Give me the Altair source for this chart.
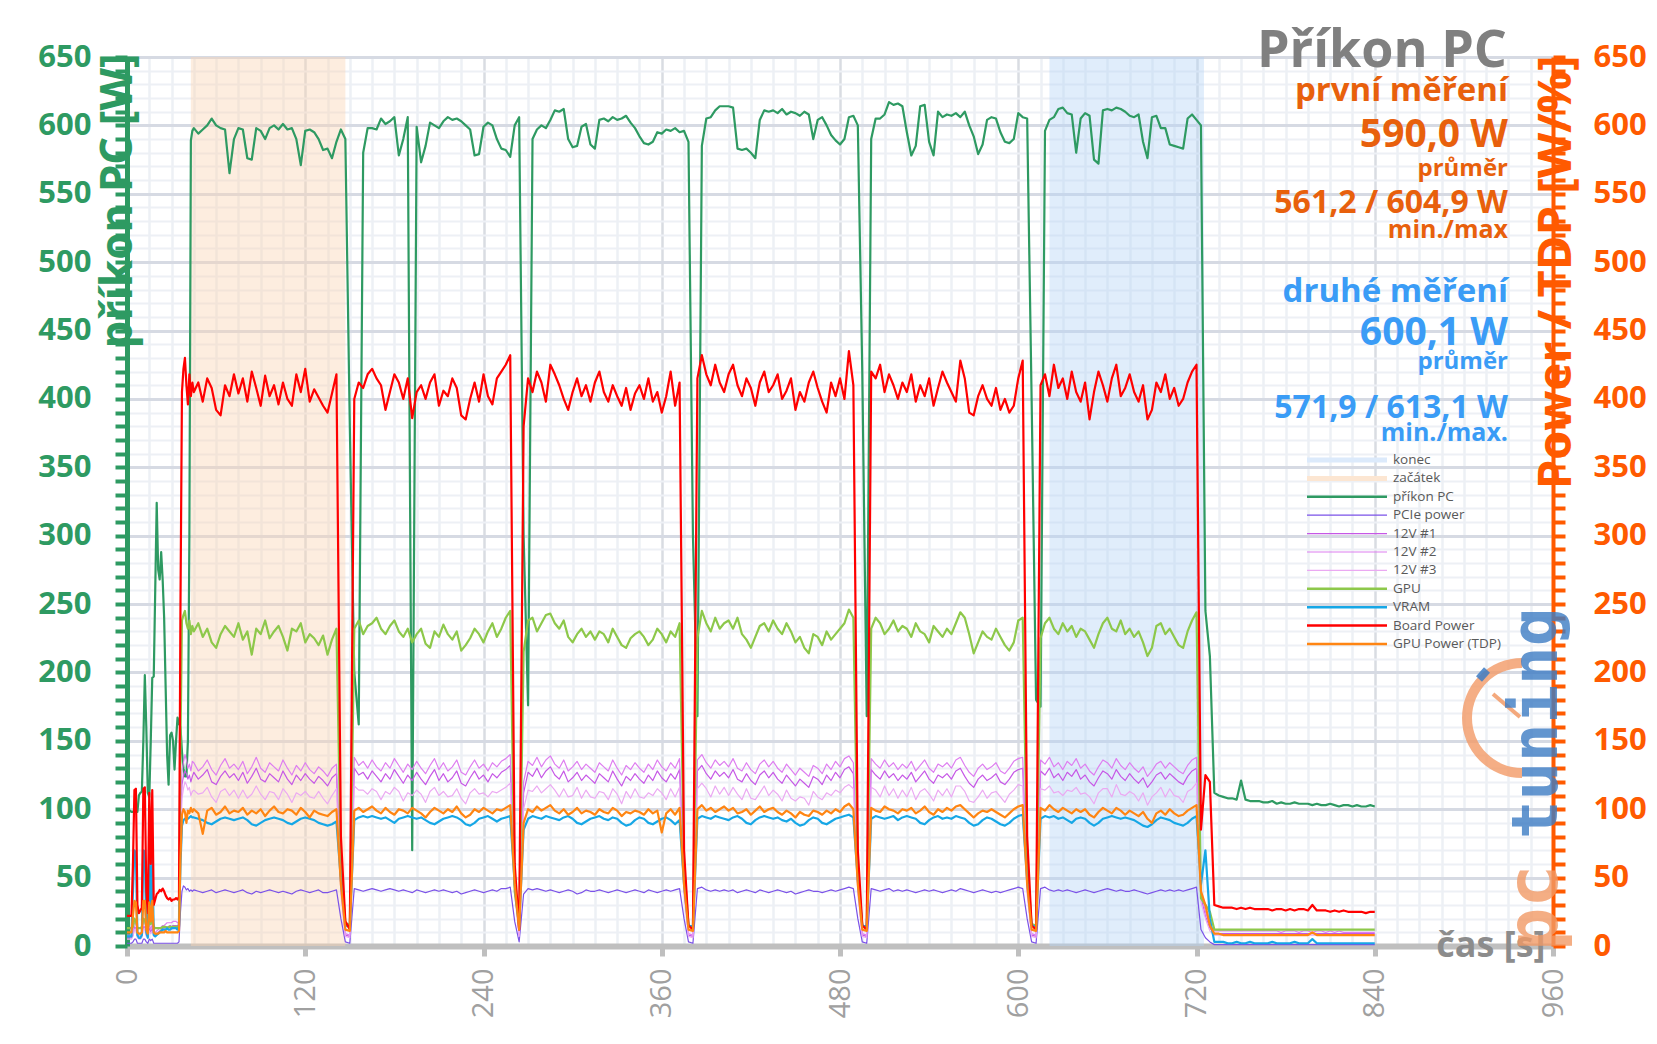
import altair as alt
import pandas as pd

# ---------------- data ----------------
# sample times [s]: 1 s steps for the first 45 s, then 3 s steps up to 840 s
time_s = list(range(0, 45)) + list(range(45, 841, 3))

band_names = ["začátek", "konec"]
band_start = [43, 621]
band_end = [147, 725]

legend_names = ["konec", "začátek", "příkon PC", "PCIe power", "12V #1", "12V #2",
                "12V #3", "GPU", "VRAM", "Board Power", "GPU Power (TDP)"]

pc_power = [
    98, 98, 99, 98, 98, 99, 98, 98, 110, 112, 113, 150, 198, 160, 112,
    109, 150, 196, 197, 260, 324, 275, 268, 288, 268, 240, 190, 140, 118, 154,
    156, 150, 129, 150, 167, 163, 160, 142, 130, 124, 124, 150, 300, 589, 596,
    598, 594, 597, 600, 605, 600, 598, 597, 565, 590,
    598, 597, 576, 575, 598, 596, 590, 598, 600, 597,
    601, 597, 598, 590, 571, 596, 597, 595, 590, 582,
    583, 576, 588, 597, 590, 380, 200, 162, 580, 598,
    598, 597, 605, 601, 603, 606, 578, 590, 606, 70,
    599, 573, 585, 602, 600, 598, 603, 606, 604, 605,
    603, 600, 597, 578, 579, 599, 602, 600, 590, 583,
    582, 577, 600, 606, 300, 176, 590, 597, 600, 598,
    604, 611, 610, 612, 590, 584, 585, 599, 601, 586,
    583, 604, 605, 603, 606, 604, 605, 607, 602, 598,
    592, 587, 586, 588, 595, 594, 597, 596, 598, 595,
    596, 588, 300, 168, 585, 605, 606, 611, 614, 614,
    614, 613, 583, 582, 583, 580, 576, 604, 611, 610,
    611, 609, 612, 608, 610, 609, 607, 610, 608, 590,
    604, 606, 600, 593, 589, 586, 590, 606, 607, 600,
    420, 168, 590, 605, 605, 608, 617, 615, 616, 614,
    595, 578, 585, 614, 615, 588, 578, 610, 606, 608,
    607, 609, 606, 610, 600, 592, 579, 586, 604, 606,
    605, 595, 588, 587, 590, 609, 606, 605, 400, 180,
    175, 596, 604, 606, 612, 613, 609, 608, 580, 605,
    609, 607, 575, 572, 611, 612, 611, 613, 612, 610,
    607, 606, 608, 588, 576, 606, 607, 598, 598, 586,
    585, 584, 583, 605, 608, 604, 600, 245, 212, 112,
    110, 109, 108, 108, 107, 121, 107, 106, 106, 106,
    105, 105, 106, 104, 105, 104, 104, 105, 104, 104,
    104, 103, 104, 103, 103, 104, 103, 102, 103, 103,
    102, 103, 102, 102, 103, 102,
]

pcie_power = [
    2, 2, 2, 2, 3, 5, 5, 2, 2, 2, 2, 5, 5, 3, 2,
    5, 4, 5, 2, 2, 2, 2, 2, 2, 2, 2, 2, 2, 2, 2,
    2, 2, 2, 2, 2, 3, 25, 40, 44, 43, 41, 42, 40, 41, 40,
    41, 40, 39, 40, 41, 39, 40, 41, 40, 39,
    40, 41, 39, 38, 40, 39, 40, 41, 40, 39,
    40, 39, 38, 40, 41, 40, 39, 40, 41, 39,
    39, 40, 41, 20, 3, 2, 42, 41, 40, 41,
    42, 41, 40, 41, 42, 41, 40, 41, 40, 39,
    41, 40, 39, 40, 41, 40, 41, 40, 39, 40,
    38, 39, 40, 41, 40, 39, 40, 41, 40, 42,
    42, 43, 18, 3, 38, 42, 41, 42, 41, 40,
    41, 40, 39, 40, 41, 40, 38, 39, 41, 40,
    40, 41, 40, 39, 40, 41, 40, 39, 40, 41,
    40, 39, 41, 40, 39, 40, 41, 40, 41, 42,
    20, 3, 2, 42, 43, 41, 40, 41, 40, 41,
    40, 41, 39, 40, 41, 40, 39, 41, 40, 39,
    40, 41, 40, 39, 40, 38, 39, 40, 41, 40,
    40, 39, 40, 41, 40, 41, 42, 43, 42, 20,
    3, 2, 42, 41, 40, 41, 42, 40, 41, 40,
    41, 40, 39, 40, 41, 40, 41, 40, 39, 40,
    41, 40, 42, 41, 40, 39, 40, 41, 40, 39,
    40, 39, 40, 41, 42, 43, 42, 20, 3, 2,
    42, 43, 41, 40, 41, 40, 41, 40, 39, 40,
    41, 40, 39, 40, 41, 42, 41, 40, 41, 40,
    40, 41, 40, 39, 38, 39, 40, 41, 40, 41,
    40, 41, 40, 41, 42, 43, 12, 6, 3, 1,
    1, 1, 1, 1, 1, 1, 1, 1, 1, 1,
    1, 1, 1, 1, 1, 1, 1, 1, 1, 1,
    1, 1, 1, 1, 1, 1, 1, 1, 1, 1,
    1, 1, 1, 1, 1, 1,
]

v12_1 = [
    6, 6, 6, 6, 8, 14, 13, 7, 6, 6, 7, 14, 14, 8, 7,
    13, 10, 13, 8, 8, 9, 10, 11, 12, 13, 13, 14, 14, 14, 15,
    14, 15, 15, 15, 15, 16, 80, 118, 124, 128, 126, 122, 125, 120, 124,
    127, 122, 125, 129, 120, 118, 124, 128, 123, 126,
    121, 127, 119, 124, 130, 122, 120, 126, 123, 120,
    128, 122, 118, 125, 121, 126, 122, 119, 124, 121,
    117, 123, 126, 42, 8, 7, 130, 125, 127, 122,
    128, 124, 120, 126, 122, 129, 124, 119, 125, 121,
    127, 122, 118, 124, 129, 121, 126, 120, 123, 128,
    119, 117, 123, 128, 122, 125, 120, 126, 123, 127,
    129, 132, 42, 8, 112, 127, 124, 130, 123, 128,
    131, 125, 122, 128, 120, 123, 127, 121, 125, 122,
    119, 126, 123, 120, 128, 122, 117, 124, 121, 126,
    122, 119, 125, 121, 128, 123, 120, 126, 122, 129,
    42, 8, 7, 128, 132, 126, 122, 128, 124, 127,
    123, 129, 122, 120, 126, 121, 118, 125, 128, 123,
    127, 122, 119, 125, 121, 117, 122, 119, 116, 124,
    122, 118, 125, 121, 127, 123, 129, 131, 126, 42,
    8, 7, 129, 125, 122, 128, 123, 126, 121, 125,
    122, 127, 120, 124, 128, 122, 119, 125, 123, 126,
    122, 128, 130, 124, 119, 116, 122, 125, 121, 123,
    126, 120, 118, 122, 127, 129, 130, 42, 8, 7,
    128, 125, 130, 123, 126, 121, 127, 124, 129, 122,
    125, 120, 117, 123, 128, 126, 122, 129, 124, 121,
    126, 122, 119, 123, 116, 120, 125, 127, 122, 126,
    123, 120, 118, 124, 128, 130, 36, 22, 13, 9,
    9, 9, 9, 9, 9, 9, 9, 9, 9, 9,
    9, 9, 9, 9, 9, 9, 9, 9, 9, 9,
    9, 9, 9, 9, 9, 9, 9, 9, 9, 9,
    9, 9, 9, 9, 9, 9,
]

v12_2 = [
    8, 8, 8, 8, 10, 17, 16, 9, 8, 8, 9, 17, 17, 10, 9,
    16, 12, 16, 10, 10, 11, 12, 13, 14, 15, 15, 16, 17, 17, 17,
    17, 18, 18, 18, 17, 18, 90, 128, 134, 140, 136, 130, 133, 128, 135,
    134, 128, 131, 136, 129, 125, 132, 137, 130, 133,
    129, 135, 126, 131, 138, 130, 127, 134, 131, 128,
    136, 130, 125, 132, 128, 134, 129, 126, 131, 128,
    124, 130, 133, 45, 9, 8, 138, 132, 135, 130,
    136, 131, 128, 134, 130, 137, 132, 127, 133, 129,
    135, 130, 126, 132, 137, 129, 134, 128, 131, 136,
    127, 125, 131, 136, 130, 133, 128, 134, 131, 135,
    137, 140, 45, 9, 120, 135, 132, 138, 131, 136,
    139, 133, 130, 136, 128, 131, 135, 129, 133, 130,
    127, 134, 131, 128, 136, 130, 125, 132, 129, 134,
    130, 127, 133, 129, 136, 131, 128, 134, 130, 137,
    45, 9, 8, 136, 140, 134, 130, 136, 132, 135,
    131, 137, 130, 128, 134, 129, 126, 133, 136, 131,
    135, 130, 127, 133, 129, 125, 130, 127, 124, 132,
    130, 126, 133, 129, 135, 131, 137, 139, 134, 45,
    9, 8, 137, 133, 130, 136, 131, 134, 129, 133,
    130, 135, 128, 132, 136, 130, 127, 133, 131, 134,
    130, 136, 138, 132, 127, 124, 130, 133, 129, 131,
    134, 128, 126, 130, 135, 137, 138, 45, 9, 8,
    136, 133, 138, 131, 134, 129, 135, 132, 137, 130,
    133, 128, 125, 131, 136, 134, 130, 137, 132, 129,
    134, 130, 127, 131, 124, 128, 133, 135, 130, 134,
    131, 128, 126, 132, 136, 138, 40, 25, 15, 11,
    11, 11, 11, 11, 11, 11, 11, 11, 11, 11,
    11, 11, 11, 11, 10, 11, 11, 11, 10, 11,
    11, 10, 11, 11, 10, 11, 10, 11, 10, 10,
    10, 10, 10, 10, 10, 10,
]

v12_3 = [
    5, 5, 5, 5, 7, 12, 11, 6, 5, 5, 6, 12, 12, 7, 6,
    11, 9, 11, 7, 7, 8, 9, 10, 10, 11, 11, 12, 12, 12, 13,
    12, 13, 13, 13, 13, 14, 70, 108, 115, 120, 118, 114, 116, 110, 113,
    114, 111, 112, 116, 109, 105, 113, 115, 110, 114,
    108, 114, 108, 111, 117, 111, 107, 113, 112, 107,
    115, 111, 105, 112, 110, 113, 109, 108, 113, 108,
    104, 110, 115, 38, 7, 6, 117, 114, 114, 111,
    115, 113, 107, 113, 111, 116, 113, 106, 112, 110,
    114, 111, 105, 113, 116, 110, 113, 109, 110, 115,
    108, 104, 112, 115, 111, 112, 109, 113, 112, 114,
    116, 119, 38, 7, 100, 114, 113, 117, 112, 115,
    118, 114, 109, 115, 109, 110, 116, 108, 114, 109,
    108, 113, 112, 107, 115, 111, 104, 113, 108, 115,
    109, 108, 112, 110, 115, 112, 107, 115, 109, 116,
    38, 7, 6, 115, 119, 115, 109, 117, 111, 116,
    110, 116, 111, 107, 115, 108, 107, 112, 117, 110,
    114, 111, 106, 114, 108, 106, 109, 108, 103, 113,
    109, 107, 112, 110, 114, 112, 116, 118, 115, 38,
    7, 6, 116, 114, 109, 117, 110, 115, 108, 114,
    109, 116, 107, 113, 115, 111, 106, 114, 110, 115,
    109, 117, 117, 113, 106, 105, 109, 114, 108, 112,
    113, 109, 105, 111, 114, 118, 117, 38, 7, 6,
    115, 114, 117, 112, 113, 110, 114, 113, 116, 111,
    112, 109, 104, 112, 115, 115, 109, 118, 111, 110,
    113, 111, 106, 112, 103, 109, 112, 116, 109, 115,
    110, 109, 105, 113, 115, 119, 32, 20, 11, 8,
    8, 8, 8, 8, 8, 8, 8, 8, 8, 8,
    8, 8, 8, 8, 8, 8, 8, 8, 8, 8,
    8, 8, 8, 8, 8, 8, 8, 8, 8, 8,
    8, 8, 8, 8, 8, 8,
]

gpu_power = [
    13, 13, 13, 13, 14, 20, 18, 13, 13, 13, 14, 20, 19, 14, 13,
    18, 16, 19, 14, 13, 13, 13, 13, 13, 14, 14, 14, 13, 14, 14,
    14, 14, 14, 14, 14, 15, 150, 238, 242, 245, 236, 232, 238, 228, 234,
    230, 236, 226, 232, 222, 218, 228, 234, 230, 226,
    236, 224, 230, 213, 232, 228, 238, 225, 230, 234,
    226, 216, 232, 230, 236, 222, 228, 225, 220, 227,
    213, 224, 232, 60, 17, 15, 232, 238, 228, 234,
    236, 240, 232, 228, 234, 238, 230, 226, 232, 222,
    228, 232, 221, 218, 230, 226, 235, 228, 224, 230,
    216, 220, 225, 232, 228, 222, 230, 236, 226, 232,
    240, 245, 40, 15, 215, 238, 240, 230, 236, 242,
    243, 236, 232, 238, 226, 222, 228, 232, 226, 230,
    224, 230, 228, 222, 232, 226, 220, 218, 225, 228,
    230, 226, 220, 224, 232, 228, 222, 230, 226, 236,
    60, 15, 14, 225, 245, 236, 230, 240, 232, 236,
    238, 232, 240, 228, 224, 218, 226, 234, 236, 230,
    238, 232, 228, 236, 230, 222, 226, 218, 214, 228,
    226, 220, 230, 224, 228, 232, 236, 246, 240, 55,
    15, 14, 232, 240, 236, 228, 232, 238, 230, 234,
    232, 226, 236, 230, 228, 222, 234, 230, 226, 232,
    228, 236, 244, 240, 228, 214, 222, 230, 226, 224,
    232, 226, 220, 216, 222, 238, 240, 60, 16, 15,
    225, 236, 240, 232, 228, 236, 230, 234, 226, 232,
    230, 224, 218, 228, 236, 240, 232, 230, 238, 228,
    232, 226, 230, 222, 212, 218, 234, 236, 228, 232,
    226, 220, 218, 230, 238, 244, 35, 30, 25, 12,
    12, 12, 12, 12, 12, 12, 12, 12, 12, 12,
    12, 12, 12, 12, 12, 12, 12, 12, 12, 12,
    12, 12, 12, 12, 12, 12, 12, 12, 12, 12,
    12, 12, 12, 12, 12, 12,
]

vram_power = [
    7, 7, 7, 7, 40, 70, 68, 8, 6, 6, 8, 70, 69, 10, 6,
    66, 30, 70, 8, 7, 8, 9, 10, 11, 12, 12, 12, 13, 12, 12,
    13, 13, 13, 13, 12, 14, 60, 88, 92, 93, 94, 93, 94, 95, 94,
    94, 93, 92, 90, 89, 91, 93, 94, 93, 92,
    93, 94, 92, 89, 88, 90, 92, 93, 94, 93,
    92, 90, 89, 91, 93, 94, 93, 92, 90, 89,
    88, 89, 91, 48, 15, 14, 92, 94, 95, 94,
    95, 94, 93, 94, 92, 90, 93, 94, 95, 94,
    93, 94, 92, 90, 89, 91, 93, 94, 95, 94,
    92, 89, 88, 90, 93, 94, 95, 93, 91, 93,
    94, 95, 45, 15, 85, 93, 95, 94, 93, 95,
    94, 93, 92, 94, 95, 93, 90, 89, 91, 93,
    94, 95, 93, 92, 94, 93, 90, 88, 89, 92,
    94, 93, 90, 89, 91, 93, 94, 92, 89, 92,
    45, 15, 14, 93, 95, 94, 93, 95, 94, 93,
    92, 94, 95, 93, 90, 89, 92, 94, 95, 94,
    93, 94, 92, 91, 93, 90, 88, 89, 92, 94,
    93, 90, 89, 91, 93, 94, 95, 96, 94, 48,
    15, 14, 93, 95, 94, 93, 94, 95, 92, 94,
    95, 94, 93, 90, 89, 92, 94, 95, 93, 94,
    93, 95, 94, 93, 90, 88, 89, 92, 94, 93,
    91, 89, 88, 90, 93, 95, 96, 48, 15, 14,
    93, 95, 94, 95, 93, 94, 92, 90, 93, 94,
    93, 90, 88, 90, 93, 94, 95, 94, 93, 94,
    93, 92, 90, 88, 87, 89, 92, 94, 93, 92,
    90, 89, 88, 90, 93, 95, 45, 70, 20, 3,
    3, 3, 2, 2, 3, 2, 2, 3, 2, 2,
    2, 2, 3, 2, 2, 2, 2, 3, 2, 2,
    2, 5, 2, 2, 2, 2, 2, 2, 2, 2,
    2, 2, 2, 2, 2, 2,
]

board_power = [
    22, 22, 22, 22, 60, 114, 115, 30, 24, 26, 28, 115, 116, 40, 24,
    112, 60, 114, 30, 34, 38, 39, 41, 40, 42, 40, 37, 35, 34, 35,
    33, 34, 34, 35, 34, 36, 250, 405, 422, 430, 410, 396, 418, 402, 412,
    405, 412, 398, 415, 408, 392, 388, 410, 402, 418,
    404, 415, 398, 420, 408, 395, 417, 402, 410, 396,
    412, 400, 395, 418, 405, 422, 398, 407, 401, 395,
    390, 404, 418, 80, 18, 12, 400, 412, 408, 418,
    422, 415, 410, 392, 405, 418, 412, 400, 415, 386,
    405, 410, 400, 412, 418, 395, 406, 402, 415, 408,
    388, 385, 400, 412, 398, 418, 402, 396, 415, 420,
    425, 432, 60, 12, 380, 415, 405, 420, 412, 398,
    425, 418, 410, 400, 392, 405, 415, 402, 410, 398,
    412, 420, 405, 398, 410, 402, 395, 408, 392, 404,
    410, 400, 415, 398, 405, 390, 402, 420, 395, 412,
    70, 15, 12, 415, 432, 418, 410, 425, 412, 405,
    418, 425, 410, 402, 415, 408, 395, 412, 420, 405,
    410, 418, 400, 406, 415, 392, 405, 398, 412, 420,
    408, 398, 390, 412, 402, 415, 400, 435, 410, 70,
    15, 12, 420, 415, 425, 405, 418, 410, 400, 412,
    405, 418, 398, 410, 402, 415, 395, 408, 420, 412,
    405, 398, 428, 415, 390, 388, 402, 410, 400, 395,
    408, 392, 400, 390, 395, 415, 428, 80, 15, 12,
    410, 418, 402, 425, 408, 415, 400, 420, 405, 398,
    412, 385, 405, 420, 410, 398, 415, 425, 402, 408,
    418, 405, 398, 410, 385, 392, 412, 405, 418, 400,
    408, 395, 400, 412, 420, 425, 85, 125, 120, 30,
    29, 28, 28, 28, 27, 28, 27, 28, 27, 27,
    27, 27, 26, 27, 27, 26, 27, 26, 27, 27,
    26, 30, 26, 26, 26, 25, 26, 25, 26, 25,
    25, 25, 25, 24, 25, 25,
]

tdp_power = [
    10, 10, 10, 10, 22, 33, 32, 10, 9, 9, 10, 33, 33, 12, 9,
    32, 18, 33, 10, 9, 9, 9, 10, 10, 10, 10, 11, 10, 10, 10,
    10, 10, 10, 10, 10, 11, 65, 96, 100, 98, 90, 99, 97, 101, 98,
    100, 97, 82, 99, 101, 96, 98, 102, 97, 99,
    98, 101, 96, 99, 97, 100, 95, 99, 102, 98,
    97, 100, 99, 96, 101, 98, 94, 99, 97, 96,
    95, 98, 100, 45, 12, 11, 99, 101, 98, 100,
    102, 99, 97, 101, 98, 96, 100, 99, 97, 101,
    99, 97, 94, 98, 101, 99, 97, 100, 98, 102,
    97, 94, 96, 100, 98, 101, 99, 97, 100, 99,
    101, 103, 45, 12, 90, 100, 98, 102, 99, 101,
    103, 99, 97, 100, 96, 98, 101, 97, 99, 98,
    96, 100, 98, 97, 101, 99, 95, 98, 97, 99,
    98, 96, 100, 97, 99, 83, 97, 100, 96, 101,
    45, 12, 11, 100, 103, 99, 101, 98, 100, 102,
    99, 101, 97, 98, 100, 96, 99, 102, 98, 100,
    101, 98, 96, 99, 97, 94, 98, 96, 95, 99,
    98, 96, 99, 97, 100, 98, 102, 104, 100, 45,
    12, 11, 101, 99, 98, 102, 100, 99, 97, 100,
    99, 101, 97, 99, 102, 98, 96, 100, 98, 101,
    99, 102, 103, 100, 97, 94, 97, 99, 98, 100,
    98, 96, 94, 97, 100, 102, 103, 45, 12, 11,
    101, 99, 103, 100, 98, 101, 99, 97, 100, 98,
    100, 96, 94, 98, 101, 99, 97, 101, 99, 96,
    99, 97, 95, 98, 93, 90, 97, 99, 96, 100,
    97, 95, 96, 99, 101, 103, 40, 30, 15, 9,
    9, 8, 8, 8, 8, 8, 8, 8, 8, 8,
    8, 8, 8, 8, 8, 8, 8, 8, 8, 8,
    8, 10, 8, 8, 8, 8, 8, 8, 8, 8,
    8, 8, 8, 8, 8, 8,
]

data = {"t": time_s, "pc": pc_power, "pcie": pcie_power, "v1": v12_1, "v2": v12_2,
        "v3": v12_3, "gpu": gpu_power, "vram": vram_power, "board": board_power,
        "tdp": tdp_power}
lens = {k: len(v) for k, v in data.items()}
if len(set(lens.values())) != 1:
    raise ValueError(str(lens))
df = pd.DataFrame(data)
band_df = pd.DataFrame({"name": band_names, "start": band_start, "end": band_end})
legend_df = pd.DataFrame({"name": legend_names})

# ---------------- styling ----------------
W, H = 1426, 889
FONT = "Open Sans"
GREEN = "#2E9A62"
ORANGE = "#FF5A00"
ORANGE_TXT = "#E8600C"
BLUE_TXT = "#3A9CF6"
GRID_MAJ = "#D6DAE3"
GRID_MIN = "#EDF0F5"

series_style = [  # column, colour, line width  (drawing order)
    ("pc", GREEN, 2.2),
    ("pcie", "#7B52E8", 1.2),
    ("v1", "#C658E6", 1.2),
    ("v2", "#DE7EF0", 1.2),
    ("v3", "#EBA9F2", 1.2),
    ("gpu", "#8DC84A", 2.2),
    ("vram", "#16A7E6", 2.2),
    ("board", "#FF0000", 2.2),
    ("tdp", "#FF8512", 2.2),
]
legend_colors = ["#DCEAFB", "#FCE6D2", GREEN, "#7B52E8", "#C658E6", "#DE7EF0",
                 "#EBA9F2", "#8DC84A", "#16A7E6", "#FF0000", "#FF8512"]
legend_widths = [5, 5, 2.5, 1.2, 1.2, 1.2, 1.2, 2.5, 2.5, 2.5, 2.5]

x_scale = alt.Scale(domain=[0, 960], nice=False, zero=False)
y_scale = alt.Scale(domain=[0, 650], nice=False)

x_axis = alt.Axis(
    values=list(range(0, 961, 15)),
    labelExpr="datum.value % 120 === 0 ? datum.label : ''",
    labelAngle=270, labelAlign="right", labelBaseline="middle",
    labelFontSize=29, labelColor="#A0A0A0", labelFont=FONT,
    labelPadding=12, labelOverlap=False, labelFlush=False,
    tickSize=10, tickWidth=5, tickColor="#BFBFBF",
    tickOpacity={"condition": {"test": "datum.value % 120 === 0", "value": 1}, "value": 0},
    domainColor="#BFBFBF", domainWidth=6,
    gridColor={"condition": {"test": "datum.value % 120 === 0", "value": "#D9DCE2"},
               "value": GRID_MIN},
    gridWidth=2.5,
    title="čas [s]", titleFontSize=36, titleFontWeight="bold", titleColor="#8C8C8C",
    titleFont=FONT, titleAlign="right", titleBaseline="alphabetic",
    titleX=1418, titleY=10, titleAngle=0,
)

y_left_axis = alt.Axis(
    orient="left", values=list(range(0, 651, 10)),
    labelExpr="datum.value % 50 === 0 ? datum.label : ''",
    labelFontSize=31, labelFontWeight="bold", labelColor=GREEN, labelFont=FONT,
    labelPadding=24, labelOverlap=False, labelFlush=False,
    tickSize=12, tickWidth=4, tickColor=GREEN,
    domainColor=GREEN, domainWidth=5,
    gridColor={"condition": {"test": "datum.value % 50 === 0", "value": GRID_MAJ},
               "value": GRID_MIN},
    gridWidth={"condition": {"test": "datum.value % 50 === 0", "value": 3}, "value": 2},
    title="příkon PC [W]", titleFontSize=44, titleFontWeight="bold", titleColor=GREEN,
    titleFont=FONT, titleAngle=270, titleAlign="right", titleBaseline="alphabetic",
    titleX=4, titleY=-4,
)

y_right_axis = alt.Axis(
    orient="right", values=list(range(0, 651, 10)), grid=False,
    labelExpr="datum.value % 50 === 0 ? datum.label : ''",
    labelFontSize=31, labelFontWeight="bold", labelColor=ORANGE, labelFont=FONT,
    labelPadding=28, labelOverlap=False, labelFlush=False,
    tickSize=12, tickWidth=4, tickColor=ORANGE,
    domainColor=ORANGE, domainWidth=4,
    title="Power / TDP [W/%]", titleFontSize=47, titleFontWeight="bold", titleColor=ORANGE,
    titleFont=FONT, titleAngle=270, titleAlign="right", titleBaseline="alphabetic",
    titleX=17, titleY=-2,
)

X = alt.X("t:Q", scale=x_scale, axis=x_axis)

# shaded intervals
band_layers = []
for nm, col in [("začátek", "#FAD5B2"), ("konec", "#B6D5F6")]:
    band_layers.append(
        alt.Chart(band_df).transform_filter(alt.datum.name == nm)
        .mark_rect(color=col, opacity=0.42)
        .encode(x=alt.X("start:Q", scale=x_scale, axis=x_axis), x2="end:Q",
                y=alt.value(0), y2=alt.value(H))
    )

line_layers = [
    alt.Chart(df).mark_line(color=c, strokeWidth=w, strokeJoin="round")
    .encode(x=X, y=alt.Y(f"{col}:Q", scale=y_scale, axis=y_left_axis))
    for col, c, w in series_style
]

main = alt.layer(*band_layers, *line_layers)

right = alt.Chart(df).mark_line(opacity=0).encode(
    x=X, y=alt.Y("pc:Q", scale=y_scale, axis=y_right_axis))

# legend drawn as marks
leg_y = alt.Y("name:N", scale=alt.Scale(type="point", domain=legend_names,
                                         range=[403, 587], padding=0), axis=None)
leg_rule = alt.Chart(legend_df).mark_rule().encode(
    x=alt.value(1180), x2=alt.value(1260), y=leg_y,
    color=alt.Color("name:N", scale=alt.Scale(domain=legend_names, range=legend_colors),
                    legend=None),
    strokeWidth=alt.StrokeWidth("name:N", scale=alt.Scale(type="ordinal",
                                                          domain=legend_names,
                                                          range=legend_widths),
                                legend=None),
)
leg_text = alt.Chart(legend_df).mark_text(
    align="left", baseline="middle", fontSize=13.5, color="#595959", font=FONT
).encode(x=alt.value(1266), y=leg_y, text="name:N")
legend = alt.layer(leg_rule, leg_text)

one = pd.DataFrame({"a": [0]})


def label(txt, x, y, size, color, weight="bold", align="right", angle=0, opacity=1.0,
          font=FONT):
    return alt.Chart(one).mark_text(
        text=txt, fontSize=size, fontWeight=weight, color=color, align=align,
        baseline="alphabetic", font=font, angle=angle, opacity=opacity
    ).encode(x=alt.value(x), y=alt.value(y))


texts = [
    label("Příkon PC", 1380, 10, 52, "#808080"),
    label("první měření", 1381, 44, 33, ORANGE_TXT),
    label("590,0 W", 1381, 90, 39, ORANGE_TXT),
    label("průměr", 1381, 119, 24, ORANGE_TXT),
    label("561,2 / 604,9 W", 1381, 156, 32, ORANGE_TXT),
    label("min./max", 1381, 181, 25, ORANGE_TXT),
    label("druhé měření", 1381, 245, 33, BLUE_TXT),
    label("600,1 W", 1381, 288, 39, BLUE_TXT),
    label("průměr", 1381, 312, 24, BLUE_TXT),
    label("571,9 / 613,1 W", 1381, 361, 32, BLUE_TXT),
    label("min./max.", 1381, 384, 25, BLUE_TXT),
]

# watermark logo
logo_arc = alt.Chart(one).mark_arc(
    radius=60, radius2=50, theta=3.1416, theta2=6.2832, color="#F29A66", opacity=0.8
).encode(x=alt.value(1395), y=alt.value(661))
logo_needle = alt.Chart(one).mark_rule(color="#F29A66", strokeWidth=4, opacity=0.85).encode(
    x=alt.value(1393), y=alt.value(660), x2=alt.value(1366), y2=alt.value(637))
logo_tick = alt.Chart(one).mark_rule(color="#3D7CC4", strokeWidth=8, opacity=0.85).encode(
    x=alt.value(1352), y=alt.value(622), x2=alt.value(1360), y2=alt.value(613))
logo_texts = [
    label("pc", 1430, 894, 72, "#F29A66", angle=270, align="left", opacity=0.8,
          font="DejaVu Sans Mono"),
    label("tuning", 1430, 782, 64, "#3D7CC4", angle=270, align="left", opacity=0.8,
          font="DejaVu Sans Mono"),
]

chart = (
    alt.layer(main, right, legend, *texts, logo_arc, logo_needle, logo_tick, *logo_texts)
    .resolve_scale(y="independent")
    .properties(width=W, height=H,
                padding={"left": 119, "top": 49, "right": 96, "bottom": 90},
                autosize=alt.AutoSizeParams(type="none"))
    .configure_view(stroke=None)
)

chart.save("out.html", embed_options={"renderer": "svg", "actions": False})
